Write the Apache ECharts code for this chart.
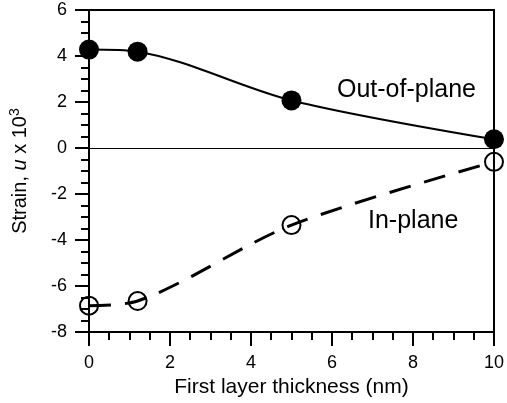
<!DOCTYPE html>
<html>
<head>
<meta charset="utf-8">
<script src="https://cdn.jsdelivr.net/npm/echarts@6/dist/echarts.min.js"></script>
<style>
  html, body { margin: 0; padding: 0; background: #fff; }
  #main { width: 507px; height: 403px; }
</style>
</head>
<body>
<div id="main"></div>
<script>
var chartDom = document.getElementById('main');
var myChart = echarts.init(chartDom);
var option;

// first layer thickness (nm)
const thickness = [0, 1.2, 5, 10];
// strain x 10^3
const outOfPlane = [4.28, 4.19, 2.07, 0.38];
const inPlane = [-6.85, -6.65, -3.35, -0.6];

const FONT = 'Liberation Sans, Arial, sans-serif';

function pairs(xs, ys) {
  return xs.map(function (x, i) { return [x, ys[i]]; });
}

option = {
  backgroundColor: '#fff',
  animation: false,
  grid: {
    left: 89, right: 6, top: 10, bottom: 69,
    show: true,
    borderColor: '#000',
    borderWidth: 2
  },
  xAxis: {
    type: 'value',
    min: 0, max: 10, interval: 2,
    name: 'First layer thickness (nm)',
    nameLocation: 'middle',
    nameGap: 43,
    nameTextStyle: { color: '#000', fontSize: 21, fontFamily: FONT },
    axisLine: { onZero: false, lineStyle: { color: '#000', width: 2 } },
    axisTick: { length: 14, lineStyle: { color: '#000', width: 2 } },
    minorTick: { show: true, splitNumber: 4, length: 8, lineStyle: { color: '#000', width: 2 } },
    axisLabel: { color: '#000', fontSize: 18, fontFamily: FONT, margin: 22 },
    splitLine: { show: false }
  },
  yAxis: {
    type: 'value',
    min: -8, max: 6, interval: 2,
    name: '{a|Strain, }{i|u}{a| x 10}{s|3}',
    nameLocation: 'middle',
    nameGap: 57,
    nameTextStyle: {
      color: '#000', fontSize: 20, fontFamily: FONT,
      rich: {
        a: { color: '#000', fontSize: 20, fontFamily: FONT },
        i: { color: '#000', fontSize: 20, fontFamily: FONT, fontStyle: 'italic' },
        s: { color: '#000', fontSize: 14, fontFamily: FONT, verticalAlign: 'top', padding: [0, 0, 10, 0] }
      }
    },
    axisLine: { show: true, lineStyle: { color: '#000', width: 2 } },
    axisTick: { show: true, length: 14, lineStyle: { color: '#000', width: 2 } },
    minorTick: { show: true, splitNumber: 4, length: 8, lineStyle: { color: '#000', width: 2 } },
    axisLabel: { color: '#000', fontSize: 18, fontFamily: FONT, margin: 22 },
    splitLine: { show: false }
  },
  series: [
    {
      name: 'Out-of-plane',
      type: 'line',
      data: pairs(thickness, outOfPlane),
      smooth: 0.3,
      clip: false,
      symbol: 'circle',
      symbolSize: 20,
      itemStyle: { color: '#000' },
      lineStyle: { color: '#000', width: 2 },
      z: 3,
      markLine: {
        silent: true,
        symbol: 'none',
        label: { show: false },
        lineStyle: { color: '#000', width: 1, type: 'solid' },
        data: [{ yAxis: 0 }]
      }
    },
    {
      name: 'In-plane',
      type: 'line',
      data: pairs(thickness, inPlane),
      smooth: 0.3,
      clip: false,
      symbol: 'circle',
      symbolSize: 18,
      itemStyle: { color: 'rgba(255,255,255,0)', borderColor: '#000', borderWidth: 2 },
      lineStyle: { color: '#000', width: 3, type: [22, 14] },
      z: 3
    }
  ],
  graphic: [
    {
      type: 'text', left: 337, top: 78,
      style: { text: 'Out-of-plane', fill: '#000', fontSize: 25, fontFamily: FONT }
    },
    {
      type: 'text', left: 368, top: 209,
      style: { text: 'In-plane', fill: '#000', fontSize: 25, fontFamily: FONT }
    }
  ]
};

option && myChart.setOption(option);
</script>
</body>
</html>
